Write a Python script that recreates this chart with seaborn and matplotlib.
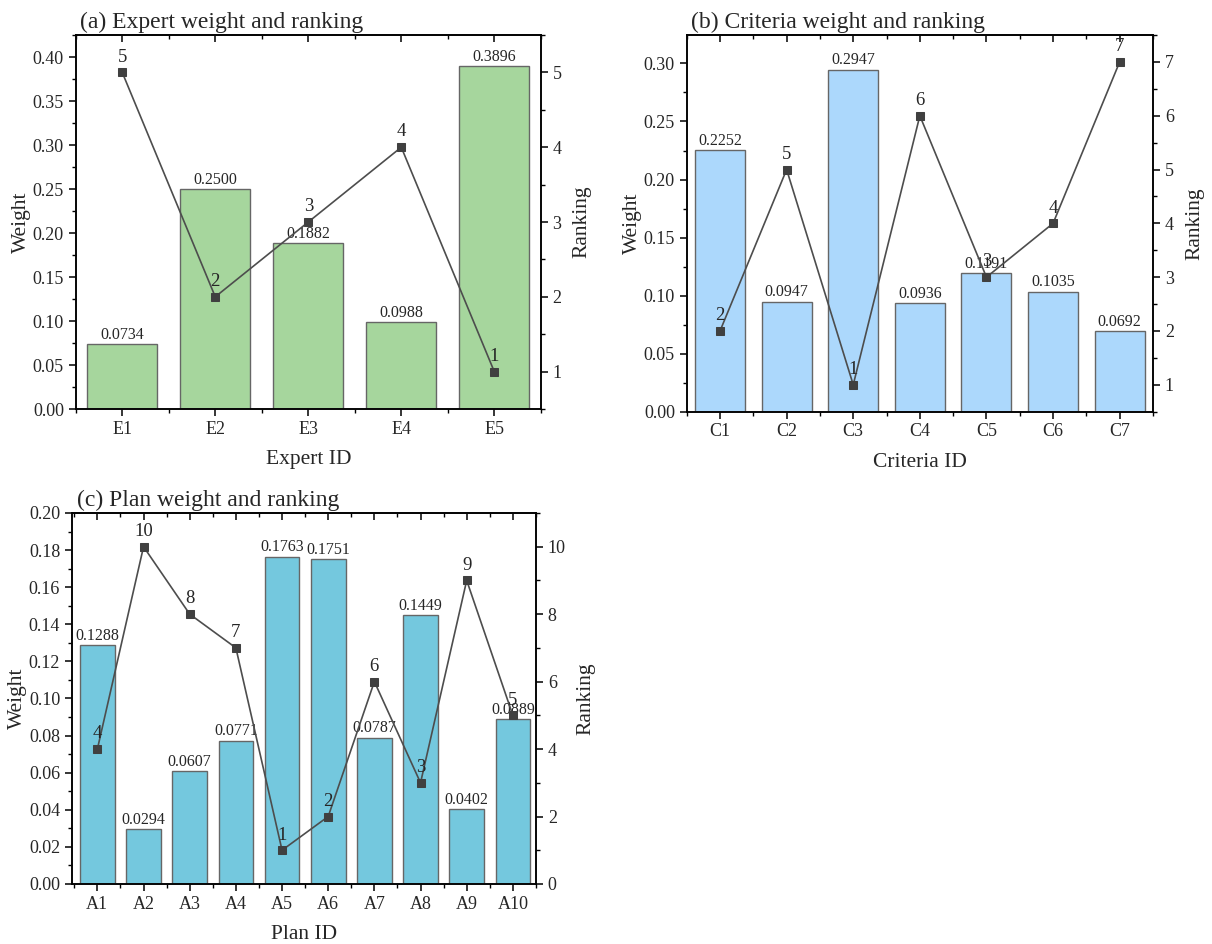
import numpy as np
from matplotlib import pyplot as plt
from matplotlib.ticker import MultipleLocator
import seaborn as sns

sns.set_style("ticks")
plt.rcParams['font.family'] = ['Liberation Serif', 'DejaVu Serif']
plt.rcParams['axes.linewidth'] = 1.2

# data
expert_ids = ['E1', 'E2', 'E3', 'E4', 'E5']
expert_weight = [0.0734, 0.2500, 0.1882, 0.0988, 0.3896]
expert_rank = [5, 2, 3, 4, 1]

criteria_ids = ['C1', 'C2', 'C3', 'C4', 'C5', 'C6', 'C7']
criteria_weight = [0.2252, 0.0947, 0.2947, 0.0936, 0.1191, 0.1035, 0.0692]
criteria_rank = [2, 5, 1, 6, 3, 4, 7]

plan_ids = ['A1', 'A2', 'A3', 'A4', 'A5', 'A6', 'A7', 'A8', 'A9', 'A10']
plan_weight = [0.1288, 0.0294, 0.0607, 0.0771, 0.1763, 0.1751, 0.0787, 0.1449, 0.0402, 0.0889]
plan_rank = [4, 10, 8, 7, 1, 2, 6, 3, 9, 5]


def panel(fig, rect, ids, weight, rank, color, title, xlabel,
          ylim, ymaj, ymin, rlim, rmaj, rmin, xlim):
    ax = fig.add_axes(rect)
    n = len(ids)
    sns.barplot(x=ids, y=weight, ax=ax, color=color, saturation=1,
                width=0.75, edgecolor='#666666', linewidth=1.0)
    for i, w in enumerate(weight):
        ax.text(i, w + ylim[1] * 0.004, f'{w:.4f}', ha='center', va='bottom',
                fontsize=11.5)
    ax.set_xlim(*xlim)
    ax.set_ylim(*ylim)
    ax.yaxis.set_major_locator(MultipleLocator(ymaj))
    ax.yaxis.set_minor_locator(MultipleLocator(ymin))
    ax.yaxis.set_major_formatter(lambda v, p: f'{v:.2f}')
    ax.xaxis.set_minor_locator(MultipleLocator(0.5))
    ax.tick_params(which='major', direction='out', length=5, width=1.1,
                   labelsize=13, color='black')
    ax.tick_params(which='minor', direction='out', length=3, width=1.0,
                   color='black')
    ax.set_xlabel(xlabel, fontsize=15.5, labelpad=9)
    ax.set_ylabel('Weight', fontsize=15.5, labelpad=1)
    ax.set_title(title, loc='left', fontsize=17, pad=5, x=0.01)

    ax2 = ax.twinx()
    sns.lineplot(x=np.arange(n), y=rank, ax=ax2, color='#4d4d4d',
                 linewidth=1.2, marker='s', markersize=6,
                 markerfacecolor='#404040', markeredgecolor='#404040')
    for i, r in enumerate(rank):
        ax2.text(i, r + (rlim[1] - rlim[0]) * 0.018, str(r), ha='center',
                 va='bottom', fontsize=13.5)
    ax2.set_ylim(*rlim)
    ax2.yaxis.set_major_locator(MultipleLocator(rmaj))
    ax2.yaxis.set_minor_locator(MultipleLocator(rmin))
    ax2.tick_params(which='major', direction='out', length=5, width=1.1,
                    labelsize=13, color='black')
    ax2.tick_params(which='minor', direction='out', length=3, width=1.0,
                    color='black')
    ax2.set_ylabel('Ranking', fontsize=15.5, labelpad=8)
    for sp in ax2.spines.values():
        sp.set_color('black')
        sp.set_linewidth(1.2)

    top = ax.secondary_xaxis('top')
    top.set_xticks(np.arange(n))
    top.xaxis.set_minor_locator(MultipleLocator(0.5))
    top.tick_params(which='major', direction='in', length=5, width=1.1,
                    labeltop=False, color='black')
    top.tick_params(which='minor', direction='in', length=3, width=1.0,
                    color='black')
    top.spines['top'].set_linewidth(1.2)
    return ax, ax2


fig = plt.figure(figsize=(12.12, 9.44), dpi=100)

panel(fig, [0.0625, 0.5667, 0.3837, 0.3962], expert_ids, expert_weight,
      expert_rank, '#a6d69d', '(a) Expert weight and ranking', 'Expert ID',
      (0, 0.425), 0.05, 0.025, (0.5, 5.5), 1, 0.5, (-0.5, 4.5))

panel(fig, [0.5666, 0.5639, 0.3847, 0.3990], criteria_ids, criteria_weight,
      criteria_rank, '#acd8fc', '(b) Criteria weight and ranking',
      'Criteria ID', (0, 0.3245), 0.05, 0.025, (0.5, 7.5), 1, 0.5,
      (-0.5, 6.5))

panel(fig, [0.0594, 0.0636, 0.3828, 0.3930], plan_ids, plan_weight,
      plan_rank, '#74c8de', '(c) Plan weight and ranking', 'Plan ID',
      (0, 0.2), 0.02, 0.01, (0, 11), 2, 1, (-0.55, 9.5))

plt.savefig('out.png', dpi=100)
